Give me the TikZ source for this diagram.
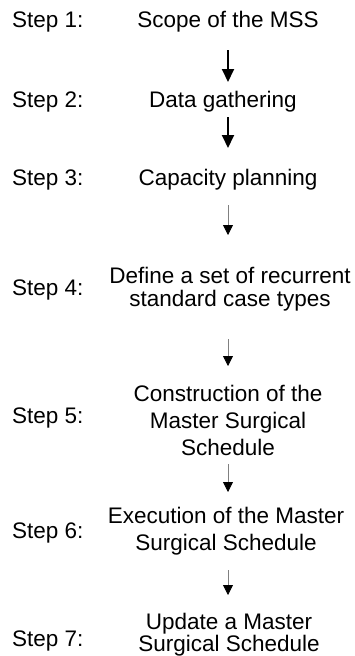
\documentclass[tikz,border=0pt]{standalone}
\usepackage{fontspec}
\setmainfont{Liberation Sans}
\usetikzlibrary{arrows.meta,calc}
\begin{document}
\begin{tikzpicture}[x=1pt,y=-1pt,
  lbl/.style={anchor=base west, inner sep=0pt, font=\fontsize{22.5}{27}\selectfont},
  txt/.style={anchor=base, inner sep=0pt, align=center, font=\fontsize{22.5}{27}\selectfont},
  tight/.style={font=\fontsize{22.5}{23}\selectfont},
  tighter/.style={font=\fontsize{22.5}{20.5}\selectfont},
  boldarrow/.style={-{Triangle[width=12pt,length=13pt]}, line width=2pt},
  thinarrow/.style={-{Triangle[width=10pt,length=10pt,color=black]}, line width=0.8pt, draw=black!50}]
\useasboundingbox (0,0) rectangle (355,656);
% step labels
\node[lbl] (l1) at (12,27) {Step 1:};
\node[lbl] (l2) at (12,107) {Step 2:};
\node[lbl] (l3) at (12,185) {Step 3:};
\node[lbl] (l4) at (12,295) {Step 4:};
\node[lbl] (l5) at (12,423) {Step 5:};
\node[lbl] (l6) at (12,538) {Step 6:};
\node[lbl] (l7) at (12,646) {Step 7:};
% step texts (base = last line's baseline)
\node[txt] (t1) at (228,27) {Scope of the MSS};
\node[txt] (t2) at (223,107) {Data gathering};
\node[txt] (t3) at (228,185) {Capacity planning};
\node[txt,tight] (t4) at (230,306) {Define a set of recurrent\\standard case types};
\node[txt] (t5) at (228,455) {Construction of the\\Master Surgical\\Schedule};
\node[txt] (t6) at (226,550) {Execution of the Master\\Surgical Schedule};
\node[txt,tighter] (t7) at (229,651) {Update a Master\\Surgical Schedule};
% connectors
\draw[boldarrow] ($(t1.base)+(0,23)$) -- ($(t2.base)+(5,-25)$);
\draw[boldarrow] ($(t2.base)+(5,10)$) -- ($(t3.base)+(0,-37)$);
\draw[thinarrow] ($(t3.base)+(0,20)$) -- ($(t4.base)+(-2,-71)$);
\draw[thinarrow] ($(t4.base)+(-2,33)$) -- ($(t5.base)+(0,-89)$);
\draw[thinarrow] ($(t5.base)+(0,9)$) -- ($(t6.base)+(2,-58)$);
\draw[thinarrow] ($(t6.base)+(2,20)$) -- ($(t7.base)+(-1,-56)$);
\end{tikzpicture}
\end{document}
